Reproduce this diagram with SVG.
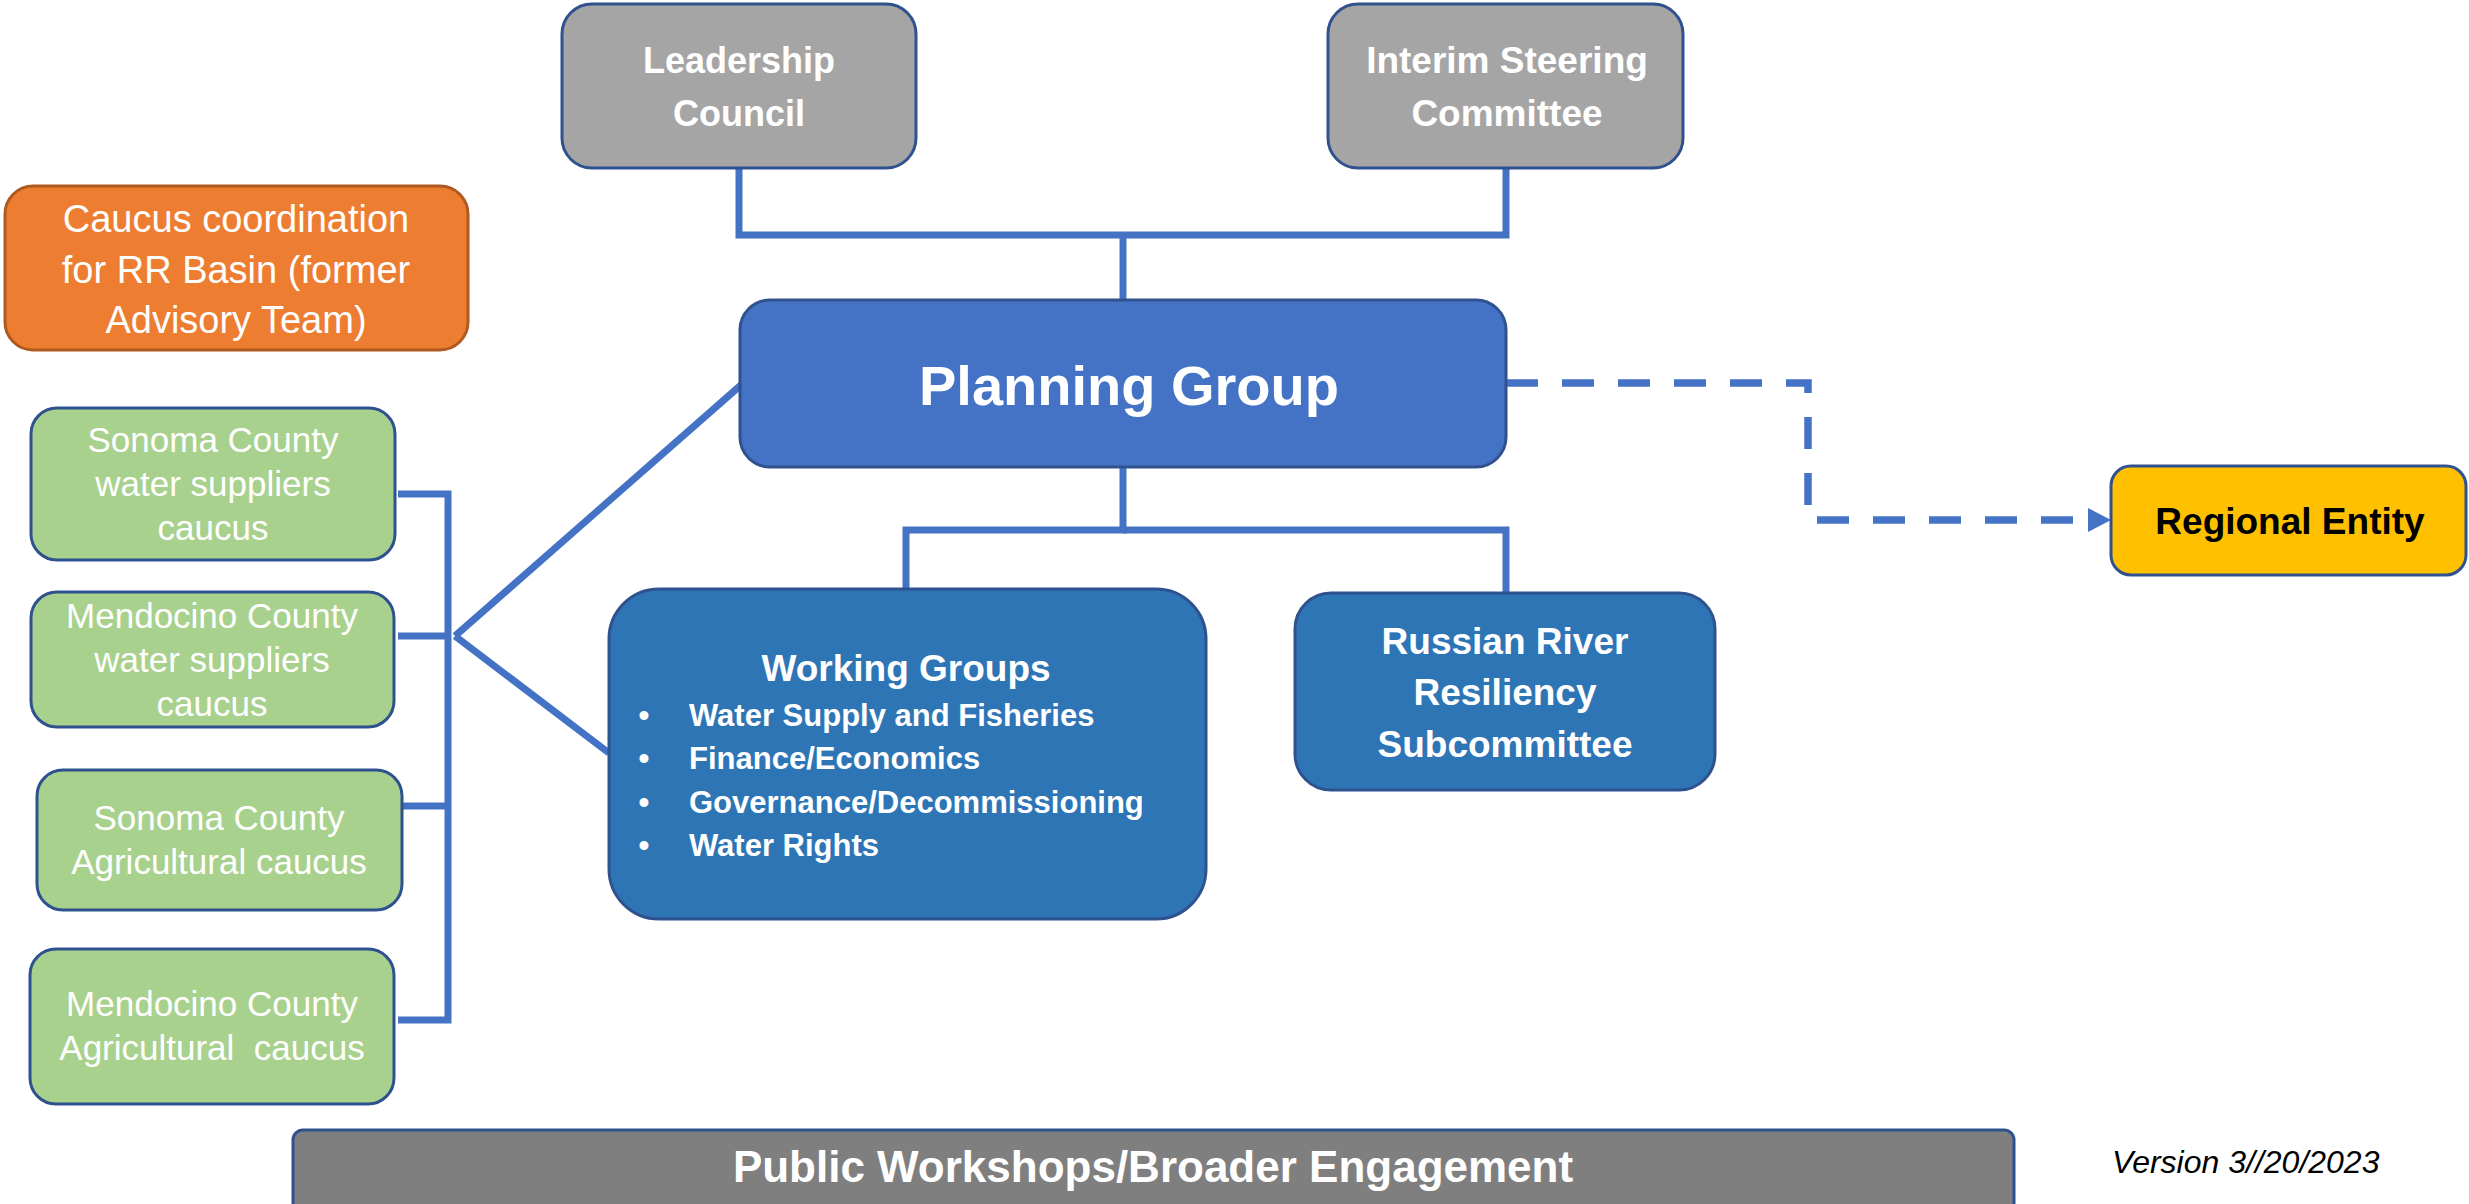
<svg xmlns="http://www.w3.org/2000/svg" width="2469" height="1204" viewBox="0 0 2469 1204">
<style>
.box{stroke:#2F528F;stroke-width:3}
.gray{fill:#A5A5A5}
.pg{fill:#4472C4}
.wg{fill:#2E75B6}
.green{fill:#A9D18E}
.orange{fill:#ED7D31;stroke:#AE5A21;stroke-width:3}
.yellow{fill:#FFC000}
.pub{fill:#7F7F7F}
text{font-family:"Liberation Sans",Arial,sans-serif;fill:#fff;text-anchor:middle}
.b{font-weight:bold}
.conn{fill:none;stroke:#4472C4;stroke-width:7}
.dash{fill:none;stroke:#4472C4;stroke-width:7.5;stroke-dasharray:32 24}
</style>
<defs>
<marker id="arrow" viewBox="0 0 23 24" refX="0" refY="12" markerWidth="23" markerHeight="24" markerUnits="userSpaceOnUse" orient="auto">
<path d="M0,0 L23,12 L0,24 Z" fill="#4472C4"/>
</marker>
</defs>
<rect width="2469" height="1204" fill="#fff"/>
<g id="connectors">
<path class="conn" d="M739,168 V235 H1506 V168"/>
<path class="conn" d="M1123,235 V300"/>
<path class="conn" d="M1123,467 V530 H906 V589"/>
<path class="conn" d="M1123,530 H1506 V593"/>
<path class="conn" d="M398,494 H448 V1020 H398"/>
<path class="conn" d="M398,636 H448"/>
<path class="conn" d="M402,806 H448"/>
<path class="conn" d="M455,636 L741,385"/>
<path class="conn" d="M455,636 L609,753"/>
<path class="dash" d="M1506,383 H1808 V520 H2088" marker-end="url(#arrow)"/>
</g>
<g id="leadership-council">
<rect class="box gray" x="562" y="4" width="354" height="164" rx="30"/>
<text class="b" x="739" y="73" font-size="36">Leadership</text>
<text class="b" x="739" y="126" font-size="36">Council</text>
</g>
<g id="interim-steering-committee">
<rect class="box gray" x="1328" y="4" width="355" height="164" rx="30"/>
<text class="b" x="1507" y="73" font-size="37">Interim Steering</text>
<text class="b" x="1507" y="126" font-size="37">Committee</text>
</g>
<g id="caucus-coordination">
<rect class="orange" x="5" y="186" width="463" height="164" rx="28"/>
<text x="236" y="232" font-size="38">Caucus coordination</text>
<text x="236" y="283" font-size="38">for RR Basin (former</text>
<text x="236" y="333" font-size="38">Advisory Team)</text>
</g>
<g id="planning-group">
<rect class="box pg" x="740" y="300" width="766" height="167" rx="30"/>
<text class="b" x="1129" y="405" font-size="56">Planning Group</text>
</g>
<g id="regional-entity">
<rect class="box yellow" x="2111" y="466" width="355" height="109" rx="20"/>
<text class="b" x="2290" y="534" font-size="37" style="fill:#000">Regional Entity</text>
</g>
<g id="sonoma-water">
<rect class="box green" x="31" y="408" width="364" height="152" rx="26"/>
<text x="213" y="452" font-size="35">Sonoma County</text>
<text x="213" y="496" font-size="35">water suppliers</text>
<text x="213" y="540" font-size="35">caucus</text>
</g>
<g id="mendocino-water">
<rect class="box green" x="31" y="592" width="363" height="135" rx="26"/>
<text x="212" y="628" font-size="35">Mendocino County</text>
<text x="212" y="672" font-size="35">water suppliers</text>
<text x="212" y="716" font-size="35">caucus</text>
</g>
<g id="sonoma-ag">
<rect class="box green" x="37" y="770" width="365" height="140" rx="26"/>
<text x="219" y="830" font-size="35">Sonoma County</text>
<text x="219" y="874" font-size="35">Agricultural caucus</text>
</g>
<g id="mendocino-ag">
<rect class="box green" x="30" y="949" width="364" height="155" rx="26"/>
<text x="212" y="1016" font-size="35">Mendocino County</text>
<text x="212" y="1060" font-size="35" xml:space="preserve">Agricultural  caucus</text>
</g>
<g id="working-groups">
<rect class="box wg" x="609" y="589" width="597" height="330" rx="50"/>
<text class="b" x="906" y="681" font-size="37">Working Groups</text>
<g class="b" font-size="31">
<text x="644" y="726">•</text>
<text x="644" y="769">•</text>
<text x="644" y="813">•</text>
<text x="644" y="856">•</text>
<text x="689" y="726" style="text-anchor:start">Water Supply and Fisheries</text>
<text x="689" y="769" style="text-anchor:start">Finance/Economics</text>
<text x="689" y="813" style="text-anchor:start">Governance/Decommissioning</text>
<text x="689" y="856" style="text-anchor:start">Water Rights</text>
</g>
</g>
<g id="russian-river">
<rect class="box wg" x="1295" y="593" width="420" height="197" rx="36"/>
<text class="b" x="1505" y="654" font-size="37">Russian River</text>
<text class="b" x="1505" y="705" font-size="37">Resiliency</text>
<text class="b" x="1505" y="757" font-size="37">Subcommittee</text>
</g>
<g id="public-workshops">
<rect class="box pub" x="293" y="1130" width="1721" height="90" rx="10"/>
<text class="b" x="1153" y="1182" font-size="44">Public Workshops/Broader Engagement</text>
</g>
<text x="2112" y="1173" font-size="32" font-style="italic" style="fill:#000;text-anchor:start">Version 3//20/2023</text>
</svg>
